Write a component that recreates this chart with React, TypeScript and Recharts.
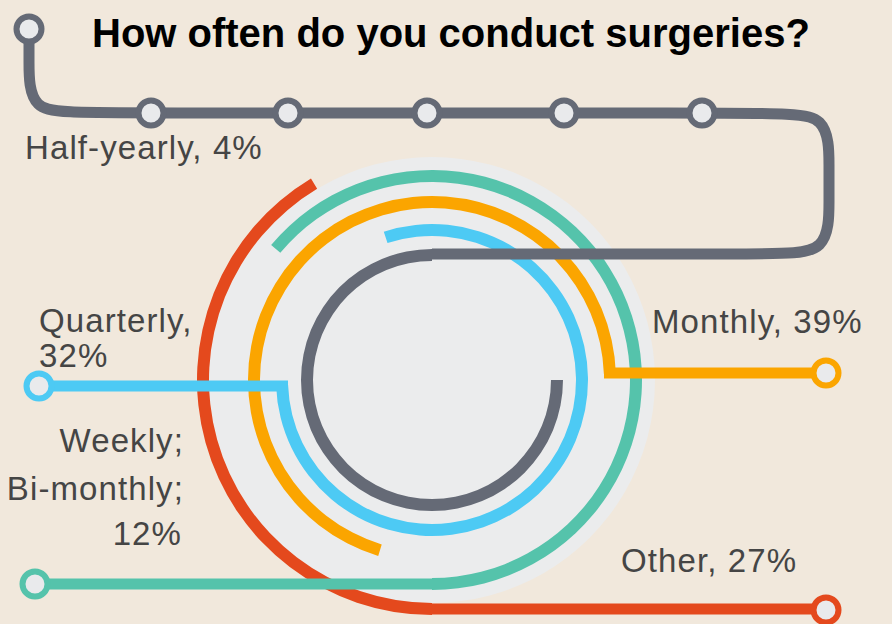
import React from 'react';
import { PieChart, Pie, Cell, ComposedChart, Line, Scatter, XAxis, YAxis } from 'recharts';

const W = 892;
const H = 624;

// answers, inner ring first
const categories = ['Half-yearly', 'Quarterly', 'Monthly', 'Weekly; Bi-monthly', 'Other'];
const shares = [4, 32, 39, 12, 27];
// where each ring's arc starts and stops (degrees, counter-clockwise from 3 o'clock)
const arcStart = [90, 182, 2, 270, 121];
const arcEnd = [360, 468, 253, 500, 270];

// subway routes leading out of the rings
const greyRoute = [
  { x: 29, y: 29 }, { x: 29, y: 58 }, { x: 29, y: 113 }, { x: 84, y: 113 },
  { x: 772, y: 113 }, { x: 829, y: 113 }, { x: 829, y: 170 }, { x: 829, y: 197 },
  { x: 829, y: 254 }, { x: 772, y: 254 }, { x: 432, y: 254 },
];
const blueRoute = [{ x: 39, y: 386 }, { x: 288, y: 386 }];
const orangeRoute = [{ x: 604, y: 373 }, { x: 826, y: 373 }];
const tealRoute = [{ x: 35, y: 584 }, { x: 432, y: 584 }];
const redRoute = [{ x: 432, y: 609 }, { x: 826, y: 609 }];

// stations
const greyStops = [
  { x: 29, y: 29 }, { x: 151, y: 113 }, { x: 288, y: 113 },
  { x: 427, y: 113 }, { x: 564, y: 113 }, { x: 702, y: 113 },
];
const blueStops = [{ x: 39, y: 386 }];
const orangeStops = [{ x: 826, y: 373 }];
const tealStops = [{ x: 35, y: 584 }];
const redStops = [{ x: 826, y: 610 }];

const colors = ['#656a76', '#4dcaf4', '#fba500', '#55c3ab', '#e4491d'];
const ringRadius = [125, 150, 178, 204, 229];
const CX = 432;
const CY = 380;
const LINE_W = 11;

const station = (color: string) => (props: any) => (
  <circle cx={props.cx} cy={props.cy} r={12.5} fill="#e9eaec" stroke={color} strokeWidth={6} />
);

const labelStyle = {
  fontFamily: '"Liberation Sans", Arial, Helvetica, sans-serif',
  fontSize: 33,
  letterSpacing: 1.1,
  fill: '#454545',
};

export default function App() {
  const layer: React.CSSProperties = { position: 'absolute', left: 0, top: 0 };
  return (
    <div style={{ position: 'absolute', left: 0, top: 0, width: W, height: H, background: '#f1e8dc', overflow: 'hidden' }}>
      <div style={layer}>
        <PieChart width={W} height={H} margin={{ top: 0, right: 0, bottom: 0, left: 0 }}>
          <Pie
            data={[{ value: 1 }]}
            dataKey="value"
            cx={CX}
            cy={CY}
            innerRadius={0}
            outerRadius={223}
            fill="#ebeced"
            stroke="none"
            isAnimationActive={false}
          />
          {categories.map((c, i) => (
            <Pie
              key={c}
              data={[{ name: c, value: shares[i] }]}
              dataKey="value"
              cx={CX}
              cy={CY}
              startAngle={arcStart[i]}
              endAngle={arcEnd[i]}
              innerRadius={ringRadius[i] - 6}
              outerRadius={ringRadius[i] + 6}
              stroke="none"
              isAnimationActive={false}
            >
              <Cell fill={colors[i]} />
            </Pie>
          ))}
        </PieChart>
      </div>
      <div style={layer}>
        <ComposedChart width={W} height={H} margin={{ top: 0, right: 0, bottom: 0, left: 0 }}>
          <XAxis type="number" dataKey="x" domain={[0, W]} allowDataOverflow hide />
          <YAxis type="number" dataKey="y" domain={[0, H]} allowDataOverflow reversed hide />
          <Line data={greyRoute} dataKey="y" type="basis" stroke={colors[0]} strokeWidth={LINE_W} dot={false} activeDot={false} isAnimationActive={false} />
          <Line data={blueRoute} dataKey="y" type="linear" stroke={colors[1]} strokeWidth={LINE_W} dot={false} activeDot={false} isAnimationActive={false} />
          <Line data={orangeRoute} dataKey="y" type="linear" stroke={colors[2]} strokeWidth={LINE_W} dot={false} activeDot={false} isAnimationActive={false} />
          <Line data={tealRoute} dataKey="y" type="linear" stroke={colors[3]} strokeWidth={LINE_W} dot={false} activeDot={false} isAnimationActive={false} />
          <Line data={redRoute} dataKey="y" type="linear" stroke={colors[4]} strokeWidth={LINE_W} dot={false} activeDot={false} isAnimationActive={false} />
          <Scatter data={greyStops} shape={station(colors[0])} isAnimationActive={false} />
          <Scatter data={blueStops} shape={station(colors[1])} isAnimationActive={false} />
          <Scatter data={orangeStops} shape={station(colors[2])} isAnimationActive={false} />
          <Scatter data={tealStops} shape={station(colors[3])} isAnimationActive={false} />
          <Scatter data={redStops} shape={station(colors[4])} isAnimationActive={false} />
        </ComposedChart>
      </div>
      <svg width={W} height={H} style={{ ...layer, pointerEvents: 'none' }}>
        <text x={92} y={47} style={{ ...labelStyle, letterSpacing: 0, fontSize: 40, fontWeight: 700, fill: '#000' }}>
          How often do you conduct surgeries?
        </text>
        <text x={25} y={159} style={labelStyle}>{`${categories[0]}, ${shares[0]}%`}</text>
        <text x={39} y={332} style={labelStyle}>{`${categories[1]},`}</text>
        <text x={39} y={367} style={labelStyle}>{`${shares[1]}%`}</text>
        <text x={652} y={333} style={labelStyle}>{`${categories[2]}, ${shares[2]}%`}</text>
        <text x={184} y={452} textAnchor="end" style={labelStyle}>Weekly;</text>
        <text x={184} y={500} textAnchor="end" style={labelStyle}>Bi-monthly;</text>
        <text x={182} y={545} textAnchor="end" style={labelStyle}>{`${shares[3]}%`}</text>
        <text x={621} y={572} style={labelStyle}>{`${categories[4]}, ${shares[4]}%`}</text>
      </svg>
    </div>
  );
}
